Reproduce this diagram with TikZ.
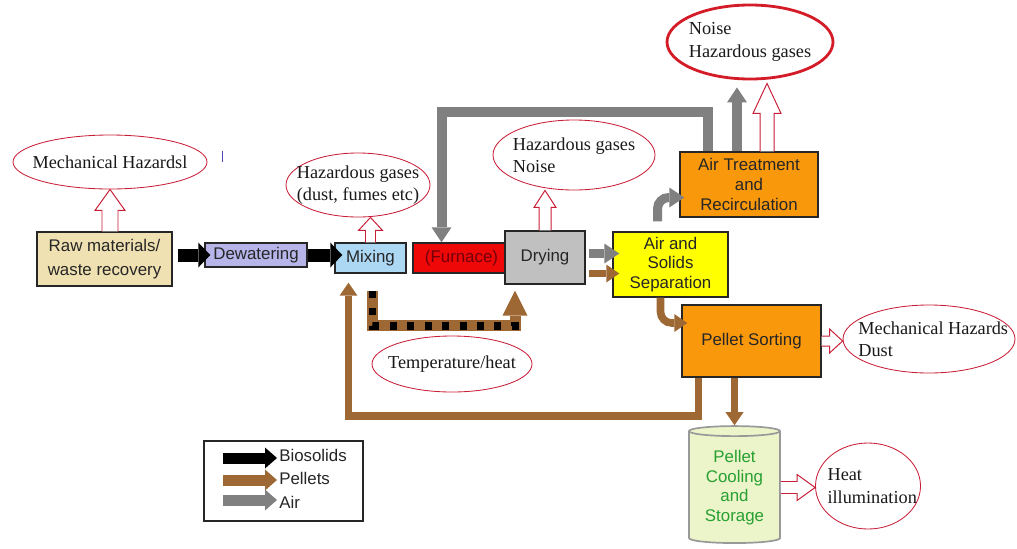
\documentclass[tikz,border=0pt]{standalone}
\usepackage{fontspec}
\setmainfont{Liberation Serif}
\setsansfont{Liberation Sans}
\usetikzlibrary{shapes.geometric,arrows.meta,calc}

\definecolor{rawtan}{RGB}{240,225,178}
\definecolor{dewlav}{RGB}{182,180,232}
\definecolor{mixblue}{RGB}{172,216,244}
\definecolor{furred}{RGB}{238,8,8}
\definecolor{furtext}{RGB}{115,0,10}
\definecolor{drygray}{RGB}{192,192,192}
\definecolor{sepyellow}{RGB}{255,255,0}
\definecolor{boxorange}{RGB}{250,152,12}
\definecolor{pelbrown}{RGB}{158,104,52}
\definecolor{airgray}{RGB}{128,128,128}
\definecolor{hzred}{RGB}{200,30,55}
\definecolor{noisered}{RGB}{212,28,40}
\definecolor{coolfill}{RGB}{236,244,202}
\definecolor{coolgreen}{RGB}{40,160,50}

\newcommand{\hazup}[5]{%
  \draw[hollow] ($(#1)+(-#3,0)$) -- ($(#2)+(-#3,#5)$) -- ($(#2)+(-#4,#5)$) -- (#2)
    -- ($(#2)+(#4,#5)$) -- ($(#2)+(#3,#5)$) -- ($(#1)+(#3,0)$);}
\newcommand{\hazright}[5]{%
  \draw[hollow] ($(#1)+(0,-#3)$) -- ($(#2)+(-#5,-#3)$) -- ($(#2)+(-#5,-#4)$) -- (#2)
    -- ($(#2)+(-#5,#4)$) -- ($(#2)+(-#5,#3)$) -- ($(#1)+(0,#3)$);}

\begin{document}
\begin{tikzpicture}[x=0.25mm, y=-0.25mm,
    box/.style={draw=black!85, line width=1pt, font=\sffamily\fontsize{12}{14}\selectfont,
      align=center, inner sep=0pt, text=black!85},
    hazard/.style={ellipse, draw=hzred, line width=0.6pt, inner sep=0pt},
    hztext/.style={font=\fontsize{13}{16}\selectfont, align=left, text=black!90},
    legtext/.style={font=\sffamily\fontsize{12}{14}\selectfont, inner sep=0pt, anchor=west, text=black!85},
    hollow/.style={draw=hzred, line width=0.7pt, fill=white},
    bioflow/.style={draw=black, line width=3.25mm, -{Triangle[length=3mm,width=6.25mm,line width=0pt]}},
    airflow/.style={draw=airgray, line width=2.5mm, -{Triangle[length=3.75mm,width=5mm,line width=0pt]}},
    pelletflow/.style={draw=pelbrown, line width=1.9mm, -{Triangle[length=3.25mm,width=4.5mm,line width=0pt]}}]

    \useasboundingbox (0,0) rectangle (1017,548);

    % process boxes
    \node[box, fill=rawtan, minimum width=33.75mm, minimum height=13.5mm,
      font=\sffamily\fontsize{12}{17}\selectfont] (raw) at (104.5,259) {Raw materials/\\waste recovery};
    \node[box, fill=dewlav, minimum width=25.5mm, minimum height=6mm] (dew) at (256,255) {Dewatering};
    \node[box, fill=mixblue, minimum width=17.75mm, minimum height=7.5mm] (mix) at (370.5,258) {Mixing};
    \node[box, fill=furred, text=furtext, minimum width=24.25mm, minimum height=7.5mm] (fur) at (461.5,258) {(Furnace)};
    \node[box, fill=drygray, minimum width=20mm, minimum height=13.25mm] (dry) at (545,257.5) {Drying};
    \node[box, fill=sepyellow, minimum width=28.75mm, minimum height=16.25mm] (sep) at (670.5,264.5) {Air and\\Solids\\Separation};
    \node[box, fill=boxorange, minimum width=34.5mm, minimum height=16.25mm] (air) at (749,184.5) {Air Treatment\\and\\Recirculation};
    \node[box, fill=boxorange, minimum width=34.75mm, minimum height=18mm] (sort) at (751.5,341) {Pellet Sorting};
    \node[box, cylinder, shape border rotate=90, aspect=0.17, draw=gray!80, line width=1.2pt, fill=coolfill,
      text=coolgreen, minimum width=22.75mm, minimum height=29.25mm] (cool) at (734.5,487.5) {Pellet\\Cooling\\and\\Storage};

    % hazards
    \node[hazard, minimum width=48.5mm, minimum height=13.5mm,
      label={[hztext]center:Mechanical Hazardsl}] (hz1) at (110,162) {};
    \node[hazard, minimum width=36mm, minimum height=16mm,
      label={[hztext]center:{Hazardous gases\\(dust, fumes etc)}}] (hz2) at (358,185) {};
    \node[hazard, minimum width=40.5mm, minimum height=17.5mm,
      label={[hztext]center:{Hazardous gases\\Noise}}] (hz3) at (574,155) {};
    \node[hazard, draw=noisered, line width=2pt, minimum width=41.5mm, minimum height=18.5mm,
      label={[hztext]center:{Noise\\Hazardous gases}}] (hz4) at (750,42) {};
    \node[hazard, minimum width=43mm, minimum height=17mm,
      label={[hztext, xshift=3pt]center:{Mechanical Hazards\\Dust}}] (hz5) at (929,339) {};
    \node[hazard, minimum width=40mm, minimum height=14mm,
      label={[hztext]center:Temperature/heat}] (hz6) at (452,364) {};
    \node[hazard, minimum width=26.25mm, minimum height=21.5mm,
      label={[hztext, xshift=3pt]center:{Heat\\illumination}}] (hz7) at (868,486) {};

    \draw[gray!60!blue, line width=0.6pt] (222,151) -- (222,162);

    \coordinate (a1) at ($(air.north)+(18,0)$);
    \coordinate (a2) at ($(a1 |- hz4.south)+(0,3)$);

    \hazup{raw.north -| hz1.south}{hz1.south}{8}{15}{21}
    \hazup{mix.north}{mix.north |- hz2.south}{5}{12}{13}
    \hazup{dry.north}{dry.north |- hz3.south}{6}{11}{17}
    \hazup{a1}{a2}{7}{14}{30}
    \hazright{sort.east}{sort.east -| hz5.west}{5}{12}{13}
    \hazright{cool.east}{cool.east -| hz7.west}{6}{13}{18}

    % biosolids
    \draw[bioflow] ($(raw.east |- dew.west)+(5,0)$) -- ($(dew.west)+(6,0)$);
    \draw[bioflow] (dew.east) -- ($(dew.east -| mix.west)+(8,0)$);

    % air
    \draw[airflow] ($(air.north)+(-41,0)$) |- ($(fur.north)+(-20,-130)$) -- ($(fur.north)+(-20,0)$);
    \draw[airflow] ($(air.north)+(-12,0)$) -- ($(air.north |- hz4.south)+(-12,7)$);
    \draw[airflow, line width=2.25mm] ($(dry.east)+(3,-4)$) -- ($(dry.east -| sep.west)+(7,-4)$);
    \draw[airflow, line width=2.25mm, rounded corners=8pt] ($(sep.north)+(-13,-10)$) |- ($(air.west)+(5,13)$);

    % pellets
    \draw[pelletflow] ($(dry.east)+(3,16)$) -- ($(dry.east -| sep.west)+(7,16)$);
    \draw[pelletflow, rounded corners=8pt] ($(sep.south)+(-10,0)$) |- ($(sort.west)+(6,-18)$);
    \draw[pelletflow] ($(sort.south)+(-53,0)$) |- ($(mix.south)+(-22,142)$) -- ($(mix.south)+(-22,9)$);
    \draw[pelletflow] (sort.south -| cool.north) -- (cool.north);

    % heat
    \coordinate (h1) at ($(mix.south)+(2,17)$);
    \coordinate (h2) at ($(dry.south)+(-30,6)$);
    \draw[pelletflow, line width=2.75mm, -{Triangle[length=6.25mm,width=6.25mm,line width=0pt]}]
      (h1) |- ($(h2)+(0,35)$) -- (h2);
    \draw[black, line width=1.9mm, dash pattern=on 5pt off 7.4pt] (h1) |- ($(h2)+(0,35)$) -- ($(h2)+(0,24)$);

    % legend
    \node[draw=black!85, line width=1pt, minimum width=39.75mm, minimum height=20mm] (legend) at (283.5,481) {};
    \node[legtext] (lg1) at (279,455) {Biosolids};
    \node[legtext] (lg2) at (279,478) {Pellets};
    \node[legtext] (lg3) at (279,502) {Air};
    \draw[bioflow, line width=2.75mm, -{Triangle[length=3mm,width=5.25mm,line width=0pt]}]
      ($(lg1.west)+(-56,3)$) -- ($(lg1.west)+(-2,3)$);
    \draw[pelletflow, line width=2.75mm, -{Triangle[length=3mm,width=5.25mm,line width=0pt]}]
      ($(lg2.west)+(-56,2)$) -- ($(lg2.west)+(-2,2)$);
    \draw[airflow, line width=2.75mm, -{Triangle[length=3mm,width=5.25mm,line width=0pt]}]
      ($(lg3.west)+(-56,-2)$) -- ($(lg3.west)+(-2,-2)$);

\end{tikzpicture}
\end{document}
